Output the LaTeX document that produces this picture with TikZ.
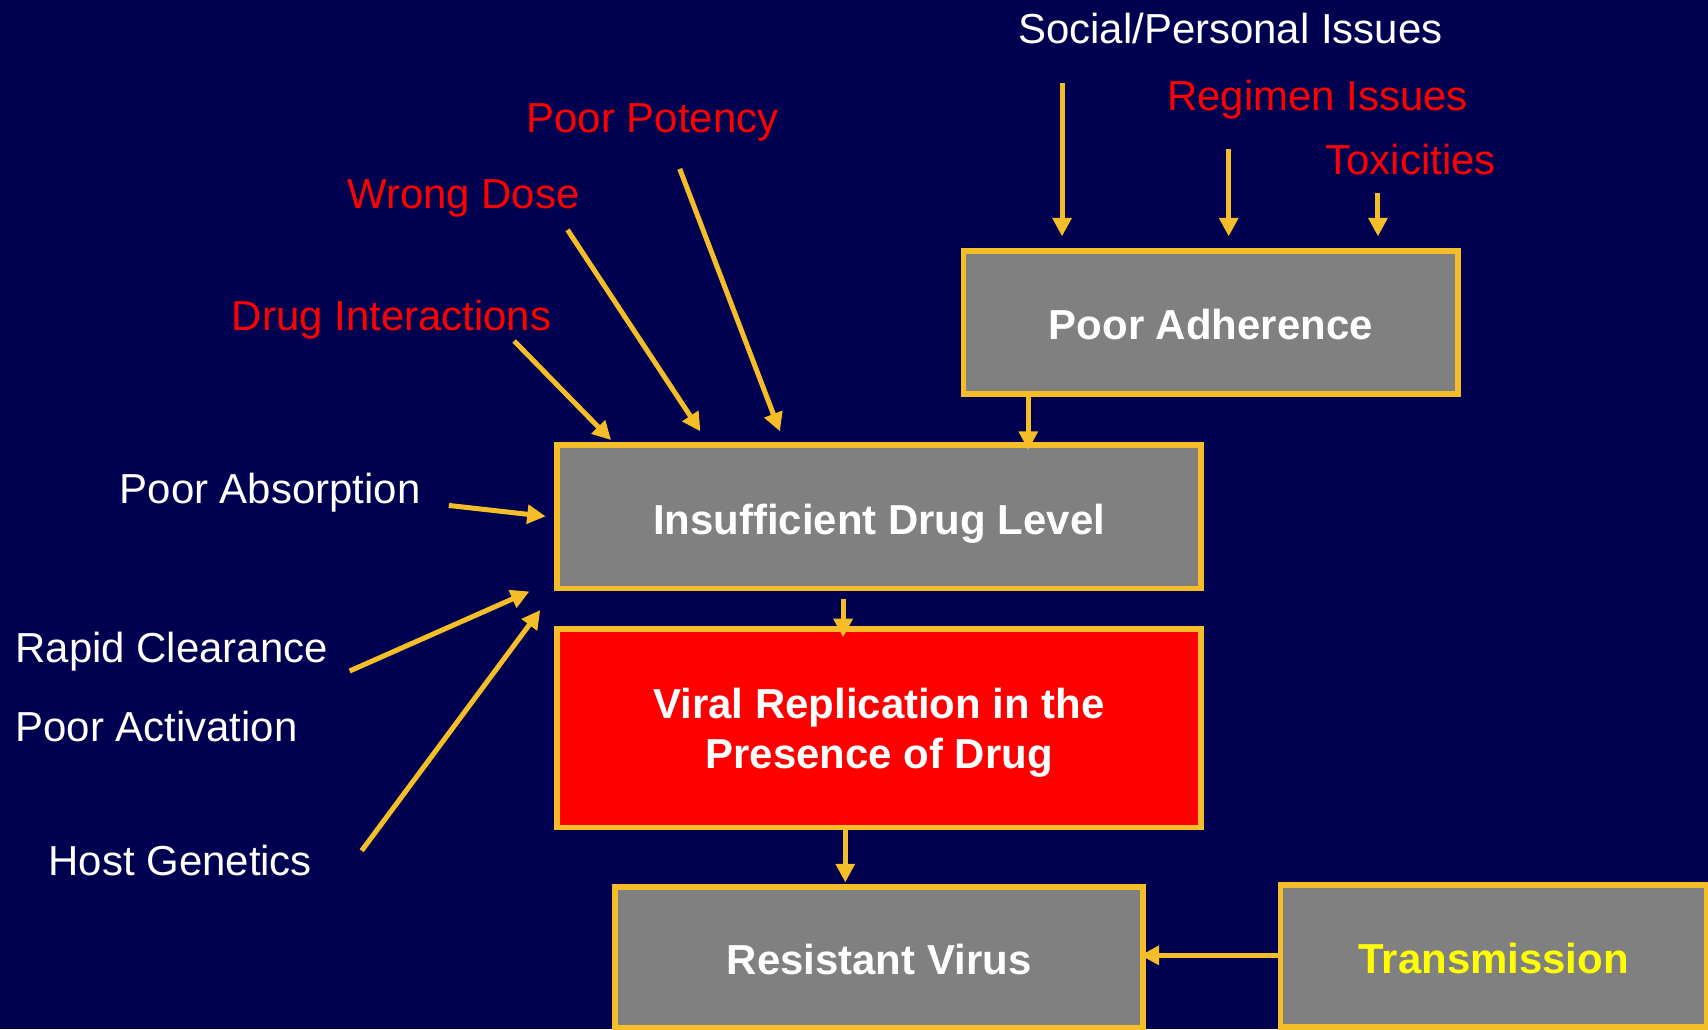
\documentclass[tikz,border=0pt]{standalone}
\usepackage{fontspec}
\setmainfont{Liberation Sans}
\usetikzlibrary{arrows.meta}
\definecolor{navybg}{RGB}{0,0,80}
\definecolor{gold}{RGB}{245,190,40}
\definecolor{boxgray}{RGB}{128,128,128}
\definecolor{lblred}{RGB}{255,0,0}
\definecolor{txtyellow}{RGB}{255,255,0}
\begin{document}
\begin{tikzpicture}[x=1pt,y=-1pt,
  box/.style={draw=gold, line width=5pt, fill=boxgray, inner sep=0pt, text=white,
    font=\fontsize{38.5}{46}\selectfont\bfseries, align=center},
  onebox/.style={box, text height=32pt, text depth=0pt},
  lbl/.style={inner sep=0pt, anchor=base, font=\fontsize{38.5}{46}\selectfont},
  wlbl/.style={lbl, text=white},
  rlbl/.style={lbl, text=lblred},
  arr/.style={draw=gold, line width=4.6pt, -{Triangle[length=17pt,width=17pt]}},
]
\fill[navybg] (0,0) rectangle (1568,945);
\useasboundingbox (0,0) rectangle (1568,945);

% boxes
\node[onebox, minimum width=454pt, minimum height=131pt] (PA) at (1111.5,296) {Poor Adherence};
\node[onebox, minimum width=591pt, minimum height=132pt] (IDL) at (807,474.5) {Insufficient Drug Level};
\node[box, fill=lblred, text depth=0pt, minimum width=591pt, minimum height=182pt] (VR) at (807,668.5) {Viral Replication in the\\Presence of Drug};
\node[onebox, minimum width=485pt, minimum height=128.7pt] (RV) at (807,878.7) {Resistant Virus};
\node[onebox, text=txtyellow, minimum width=391.7pt, minimum height=130.7pt] (TR) at (1371.2,877.6) {Transmission};

% labels
\node[wlbl] (lSP) at (1129.5,40) {Social/Personal Issues};
\node[rlbl] (lRI) at (1209.5,101) {Regimen Issues};
\node[rlbl] (lTX) at (1295,160) {Toxicities};
\node[rlbl] (lPP) at (599,122) {Poor Potency};
\node[rlbl] (lWD) at (425.5,191) {Wrong Dose};
\node[rlbl] (lDI) at (359.5,303) {Drug Interactions};
\node[wlbl] (lPAb) at (248,462) {Poor Absorption};
\node[wlbl, anchor=base west] (lRC) at (14,608) {Rapid Clearance};
\node[wlbl, anchor=base west] (lPAc) at (14,681) {Poor Activation};
\node[wlbl] (lHG) at (165.5,804) {Host Genetics};

% arrow end points
\coordinate (sSP) at (975,76);   \coordinate (tSP) at (975,217);
\coordinate (sRI) at (1128,137); \coordinate (tRI) at (1128,217);
\coordinate (sTX) at (1265,177); \coordinate (tTX) at (1265,217);
\coordinate (tPA) at (944,413);
\coordinate (sDI) at (472,313);  \coordinate (tDI) at (561,404);
\coordinate (sWD) at (521,211);  \coordinate (tWD) at (643,396);
\coordinate (sPP) at (624,155);  \coordinate (tPP) at (716,396);
\coordinate (sPAb) at (412,464); \coordinate (tPAb) at (501,474);
\coordinate (sRC) at (321,616);  \coordinate (tRC) at (486,543);
\coordinate (sHG) at (332,781);  \coordinate (tHG) at (496,560);
\coordinate (sIV) at (774,550);  \coordinate (tIV) at (774,585);
\coordinate (tVR) at (776,810);
\coordinate (tTR) at (1047,877);

% connectors
\draw[arr] (sSP) -- (tSP);
\draw[arr] (sRI) -- (tRI);
\draw[arr] (sTX) -- (tTX);
\draw[arr] (PA.south -| tPA) -- (tPA);
\draw[arr] (sDI) -- (tDI);
\draw[arr] (sWD) -- (tWD);
\draw[arr] (sPP) -- (tPP);
\draw[arr] (sPAb) -- (tPAb);
\draw[arr] (sRC) -- (tRC);
\draw[arr] (sHG) -- (tHG);
\draw[arr] (sIV) -- (tIV);
\draw[arr] (VR.south -| tVR) -- (tVR);
\draw[arr] (TR.west |- tTR) -- (tTR);
\end{tikzpicture}
\end{document}
